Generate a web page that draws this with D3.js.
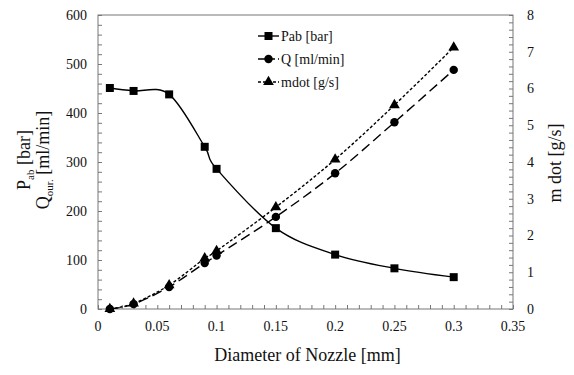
<!DOCTYPE html>
<html>
<head>
<meta charset="utf-8">
<script src="https://cdn.jsdelivr.net/npm/d3@7"></script>
<style>
  html, body { margin: 0; padding: 0; background: #fff; }
  svg text { font-family: "Liberation Serif", "Times New Roman", Times, "DejaVu Serif", serif; fill: #111; }
</style>
</head>
<body>
<svg id="chart" width="574" height="375"></svg>
<script>
// nozzle diameters (mm)
var diameters = [0.01, 0.03, 0.06, 0.09, 0.1, 0.15, 0.2, 0.25, 0.3];
// series values
var pab  = [451, 445, 438, 331, 286, 165, 111, 83, 65];      // bar (left axis)
var flow = [0, 10, 45, 94, 109, 188, 277, 381, 488];         // ml/min (left axis)
var mdot = [0, 0.15, 0.65, 1.38, 1.58, 2.77, 4.07, 5.55, 7.12]; // g/s (right axis)

var xTicks = [0, 0.05, 0.1, 0.15, 0.2, 0.25, 0.3, 0.35];
var yLeftTicks = [0, 100, 200, 300, 400, 500, 600];
var yRightTicks = [0, 1, 2, 3, 4, 5, 6, 7, 8];

var serif = '"Liberation Serif", "Times New Roman", Times, "DejaVu Serif", serif';

var svg = d3.select('#chart');
var m = { left: 98, right: 513, top: 15, bottom: 309 };

var x = d3.scaleLinear().domain([0, 0.35]).range([m.left, m.right]);
var yL = d3.scaleLinear().domain([0, 600]).range([m.bottom, m.top]);
var yR = d3.scaleLinear().domain([0, 8]).range([m.bottom, m.top]);

var axisColor = '#777';

// frame
svg.append('rect')
    .attr('x', m.left).attr('y', m.top)
    .attr('width', m.right - m.left).attr('height', m.bottom - m.top)
    .attr('fill', 'none').attr('stroke', axisColor).attr('stroke-width', 1);

function tidy(g) {
    g.attr('font-family', serif);
    g.select('.domain').remove();
    g.selectAll('line').attr('stroke', axisColor);
}

// x axis (ticks inward)
var xAxis = svg.append('g').attr('transform', 'translate(0,' + m.bottom + ')');
xAxis.call(d3.axisTop(x).tickValues(d3.range(0, 0.3501, 0.01)).tickSize(4).tickFormat('')).call(tidy);
xTicks.forEach(function(v) {
    xAxis.append('text')
        .attr('x', x(v)).attr('y', 22)
        .attr('text-anchor', 'middle')
        .attr('font-family', serif)
        .attr('font-size', 14)
        .text(d3.format('~g')(v));
});

// left axis
var lAxis = svg.append('g').attr('transform', 'translate(' + m.left + ',0)');
lAxis.call(d3.axisRight(yL).tickValues(d3.range(0, 601, 20)).tickSize(4).tickFormat('')).call(tidy);
yLeftTicks.forEach(function(v) {
    lAxis.append('text')
        .attr('x', -11).attr('y', yL(v)).attr('dy', '0.35em')
        .attr('text-anchor', 'end')
        .attr('font-family', serif)
        .attr('font-size', 14)
        .text(v);
});

// right axis
var rAxis = svg.append('g').attr('transform', 'translate(' + m.right + ',0)');
rAxis.call(d3.axisLeft(yR).tickValues(d3.range(0, 8.001, 0.2)).tickSize(4).tickFormat('')).call(tidy);
yRightTicks.forEach(function(v) {
    rAxis.append('text')
        .attr('x', 14).attr('y', yR(v)).attr('dy', '0.35em')
        .attr('text-anchor', 'start')
        .attr('font-family', serif)
        .attr('font-size', 14)
        .text(v);
});

// axis titles
svg.append('text')
    .attr('x', (m.left + m.right) / 2 + 2).attr('y', 361)
    .attr('text-anchor', 'middle').attr('font-size', 18)
    .attr('font-family', serif)
    .text('Diameter of Nozzle [mm]');

var yt1 = svg.append('text')
    .attr('transform', 'translate(30,160) rotate(-90)')
    .attr('text-anchor', 'middle').attr('font-size', 18)
    .attr('font-family', serif);
yt1.append('tspan').text('P');
yt1.append('tspan').attr('font-size', 11).attr('dy', 4).text('ab');
yt1.append('tspan').attr('dy', -4).text(' [bar]');

var yt2 = svg.append('text')
    .attr('transform', 'translate(49,160) rotate(-90)')
    .attr('text-anchor', 'middle').attr('font-size', 18)
    .attr('font-family', serif);
yt2.append('tspan').text('Q');
yt2.append('tspan').attr('font-size', 11).attr('dy', 4).text('our.');
yt2.append('tspan').attr('dy', -4).text(' [ml/min]');

svg.append('text')
    .attr('transform', 'translate(561,163) rotate(-90)')
    .attr('text-anchor', 'middle').attr('font-size', 18)
    .attr('font-family', serif)
    .text('m dot [g/s]');

// series
var series = [
    { name: 'Pab [bar]', values: pab, y: yL, dash: null, marker: 'square' },
    { name: 'Q [ml/min]', values: flow, y: yL, dash: '10,5', marker: 'circle' },
    { name: 'mdot [g/s]', values: mdot, y: yR, dash: '3,2', marker: 'triangle' }
];

var symbols = {
    square: d3.symbol().type(d3.symbolSquare).size(64),
    circle: d3.symbol().type(d3.symbolCircle).size(56),
    triangle: d3.symbol().type(d3.symbolTriangle).size(50)
};

series.forEach(function(s) {
    var pts = diameters.map(function(d, i) { return [d, s.values[i]]; });
    var line = d3.line()
        .x(function(p) { return x(p[0]); })
        .y(function(p) { return s.y(p[1]); })
        .curve(d3.curveCardinal.tension(0));
    svg.append('path')
        .datum(pts)
        .attr('fill', 'none')
        .attr('stroke', '#000')
        .attr('stroke-width', 1.4)
        .attr('stroke-dasharray', s.dash)
        .attr('d', line);
    svg.selectAll(null)
        .data(pts)
        .enter()
        .append('path')
        .attr('transform', function(p) { return 'translate(' + x(p[0]) + ',' + s.y(p[1]) + ')'; })
        .attr('d', symbols[s.marker]())
        .attr('fill', '#000');
});

// legend
var legend = svg.append('g').attr('transform', 'translate(258,36)');
series.forEach(function(s, i) {
    var lg = legend.append('g').attr('transform', 'translate(0,' + (i * 23) + ')');
    lg.append('line')
        .attr('x1', 0).attr('x2', 21).attr('y1', 0).attr('y2', 0)
        .attr('stroke', '#000').attr('stroke-width', 1.4)
        .attr('stroke-dasharray', s.dash ? (s.marker === 'circle' ? '7,3' : '3,2') : null);
    lg.append('path')
        .attr('transform', 'translate(10.5,0)')
        .attr('d', symbols[s.marker]())
        .attr('fill', '#000');
    lg.append('text')
        .attr('x', 23).attr('y', 0).attr('dy', '0.35em')
        .attr('font-family', serif)
        .attr('font-size', 14)
        .text(s.name);
});
</script>
</body>
</html>
